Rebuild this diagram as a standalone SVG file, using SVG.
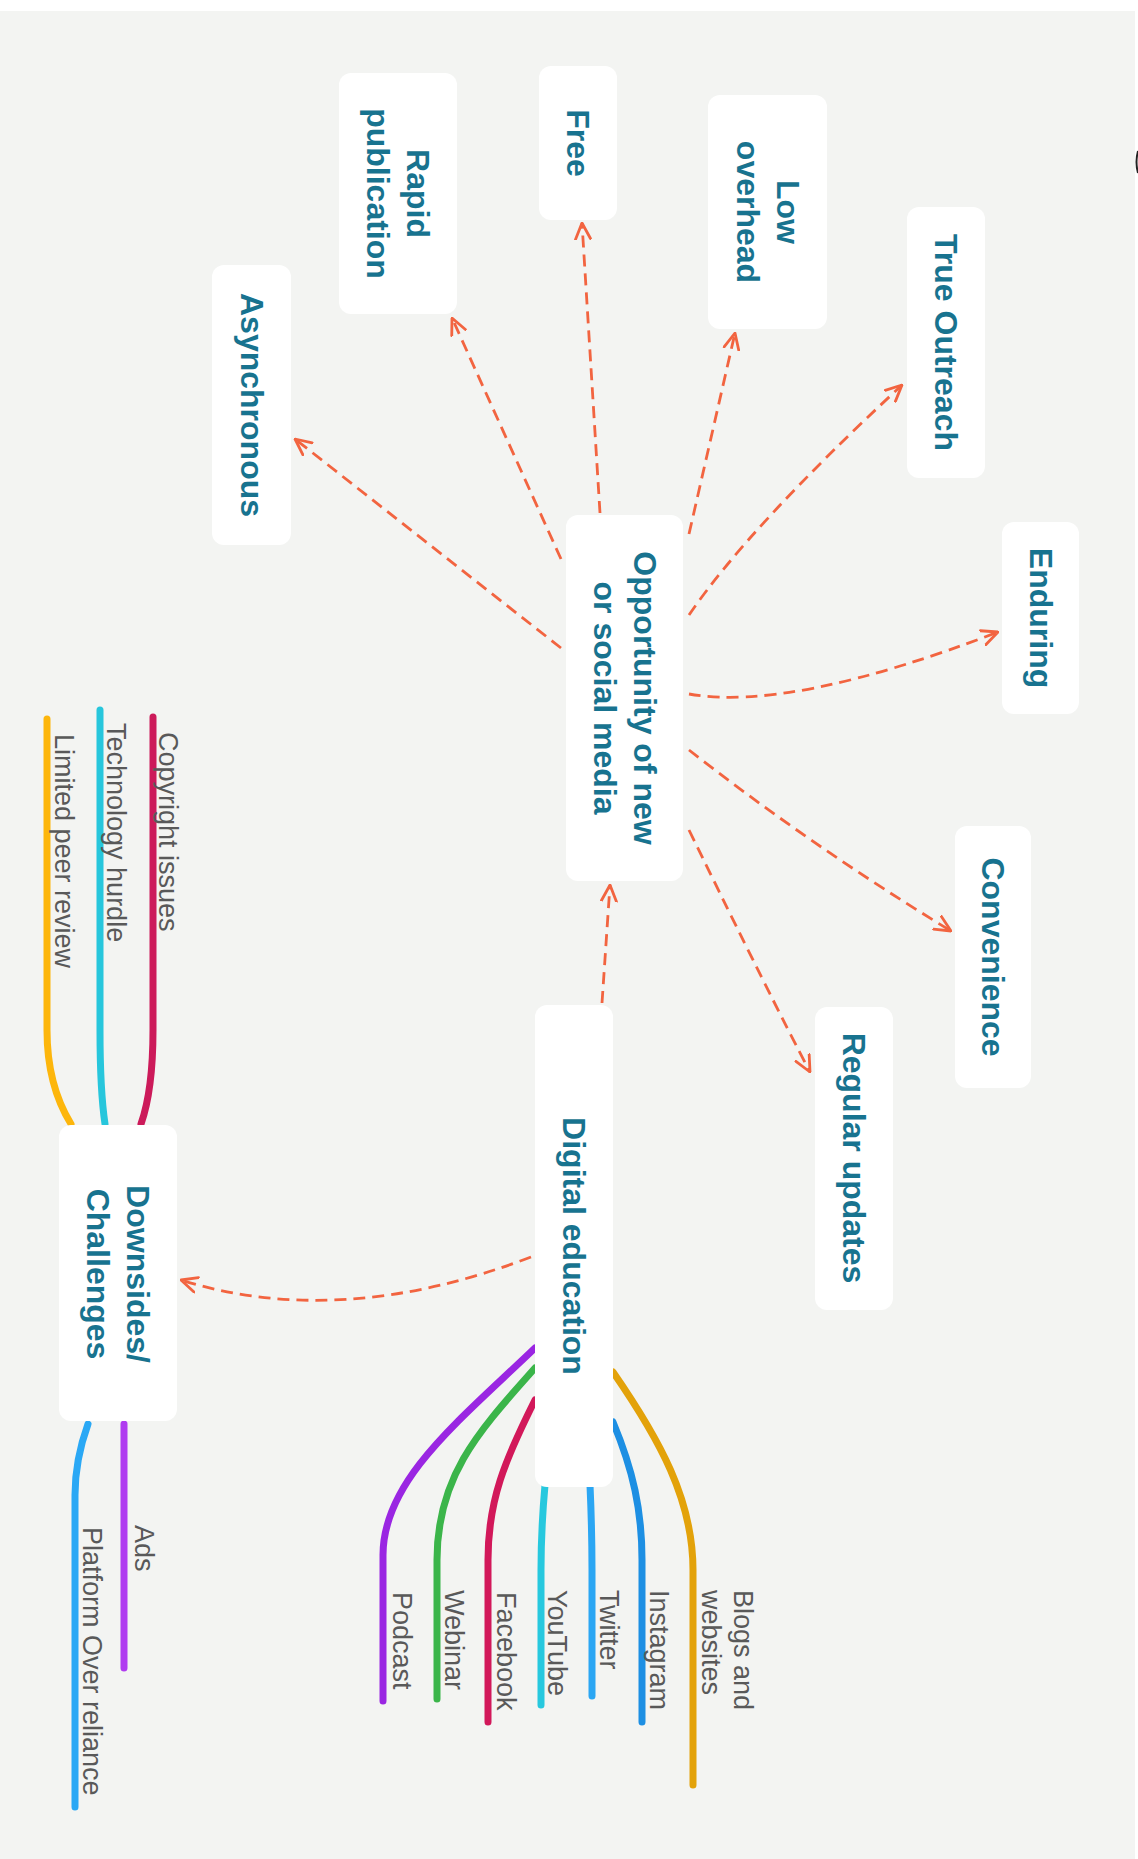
<svg xmlns="http://www.w3.org/2000/svg" width="1138" height="1859" viewBox="0 0 1138 1859">
<defs>
<style>
.bg{fill:#f3f4f2}
.box{fill:#ffffff}
.nt{font-family:"Liberation Sans",Arial,Helvetica,sans-serif;font-weight:bold;font-size:32px;fill:#18738f}
.lt{font-family:"Liberation Sans",Arial,Helvetica,sans-serif;font-size:27px;fill:#595959}
.dash{fill:none;stroke:#f26440;stroke-width:2.8;stroke-dasharray:12 7;marker-end:url(#ah)}
.br{fill:none;stroke-width:7;stroke-linecap:round;stroke-linejoin:round}
</style>
<marker id="ah" viewBox="0 0 18 18" refX="17" refY="9" markerWidth="18" markerHeight="18" markerUnits="userSpaceOnUse" orient="auto">
<path d="M1,1.5 L17,9 L1,16.5" fill="none" stroke="#f26440" stroke-width="2.8" stroke-linecap="round" stroke-linejoin="round"/>
</marker>
</defs>
<rect x="0" y="0" width="1138" height="1859" fill="#ffffff"/>
<rect class="bg" x="0" y="11" width="1135" height="1848"/>
<path d="M1138,151 Q1135,162 1138,173" fill="none" stroke="#222" stroke-width="2"/>

<g id="connectors">
<path class="dash" d="M561,648 L295,439"/>
<path class="dash" d="M561,559 L452,318"/>
<path class="dash" d="M600,513 L582,223"/>
<path class="dash" d="M689,534 L735,333"/>
<path class="dash" d="M689,615 Q749,527 902,385"/>
<path class="dash" d="M689,694 Q790,712 998,632"/>
<path class="dash" d="M689,750 Q813,847 951,931"/>
<path class="dash" d="M689,830 Q772,1000 810,1072"/>
<path class="dash" d="M602,1003 L610,885"/>
<path class="dash" d="M531,1257 Q340,1330 181,1280"/>

<path class="br" stroke="#cc1a5a" d="M153,717 V1030 Q153,1090 141,1124"/>
<path class="br" stroke="#27c6dc" d="M100,710 V1030 Q100,1090 105,1124"/>
<path class="br" stroke="#fdb60c" d="M47,719 V1030 Q47,1085 71,1124"/>
<path class="br" stroke="#2aa8f5" d="M88,1424 Q75,1460 75,1495 V1807"/>
<path class="br" stroke="#b03cf0" d="M124,1424 V1668"/>

<path class="br" stroke="#9a26e2" d="M535,1348 C460,1420 383,1480 383,1555 V1701"/>
<path class="br" stroke="#3bb54a" d="M535,1368 C480,1430 437,1475 437,1560 V1699"/>
<path class="br" stroke="#d2185a" d="M535,1400 C505,1460 488,1500 488,1560 V1722"/>
<path class="br" stroke="#27c8de" d="M545,1485 Q541,1530 541,1570 V1705"/>
<path class="br" stroke="#2ba6f3" d="M590,1485 Q592,1530 592,1570 V1696"/>
<path class="br" stroke="#1d8fe3" d="M613,1422 C633,1470 642,1510 642,1560 V1722"/>
<path class="br" stroke="#e3a20a" d="M613,1372 C660,1440 693,1500 693,1570 V1785"/>
</g>

<g id="node-asynchronous">
<rect class="box" x="212" y="265" width="79" height="280" rx="12"/>
<text class="nt" text-anchor="middle" transform="translate(240.5,405) rotate(90)">Asynchronous</text>
</g>
<g id="node-rapid">
<rect class="box" x="339" y="73" width="118" height="241" rx="12"/>
<text class="nt" text-anchor="middle" transform="translate(407,193.5) rotate(90)"><tspan x="0" y="0">Rapid</tspan><tspan x="0" y="40">publication</tspan></text>
</g>
<g id="node-free">
<rect class="box" x="539" y="66" width="78" height="154" rx="12"/>
<text class="nt" text-anchor="middle" transform="translate(567,143) rotate(90)">Free</text>
</g>
<g id="node-low-overhead">
<rect class="box" x="708" y="95" width="119" height="234" rx="12"/>
<text class="nt" text-anchor="middle" transform="translate(776.5,212) rotate(90)"><tspan x="0" y="0">Low</tspan><tspan x="0" y="40">overhead</tspan></text>
</g>
<g id="node-true-outreach">
<rect class="box" x="907" y="207" width="78" height="271" rx="12"/>
<text class="nt" text-anchor="middle" transform="translate(935,342.5) rotate(90)">True Outreach</text>
</g>
<g id="node-enduring">
<rect class="box" x="1002" y="522" width="77" height="192" rx="12"/>
<text class="nt" text-anchor="middle" transform="translate(1029.5,618) rotate(90)">Enduring</text>
</g>
<g id="node-convenience">
<rect class="box" x="955" y="826" width="76" height="262" rx="12"/>
<text class="nt" text-anchor="middle" transform="translate(982,957) rotate(90)">Convenience</text>
</g>
<g id="node-regular-updates">
<rect class="box" x="815" y="1007" width="78" height="303" rx="12"/>
<text class="nt" text-anchor="middle" transform="translate(843,1158) rotate(90)">Regular updates</text>
</g>
<g id="node-opportunity">
<rect class="box" x="566" y="515" width="117" height="366" rx="12"/>
<text class="nt" text-anchor="middle" transform="translate(633.5,698) rotate(90)"><tspan x="0" y="0">Opportunity of new</tspan><tspan x="0" y="40">or social media</tspan></text>
</g>
<g id="node-digital-education">
<rect class="box" x="535" y="1005" width="78" height="482" rx="12"/>
<text class="nt" text-anchor="middle" transform="translate(563,1246) rotate(90)">Digital education</text>
</g>
<g id="node-downsides">
<rect class="box" x="59" y="1125" width="118" height="296" rx="12"/>
<text class="nt" text-anchor="middle" transform="translate(127,1274) rotate(90)"><tspan x="0" y="0">Downsides/</tspan><tspan x="0" y="40">Challenges</tspan></text>
</g>

<g id="leaf-copyright"><text class="lt" transform="translate(159,732) rotate(90)">Copyright issues</text></g>
<g id="leaf-technology"><text class="lt" transform="translate(107,723) rotate(90)">Technology hurdle</text></g>
<g id="leaf-peer-review"><text class="lt" transform="translate(55,734) rotate(90)">Limited peer review</text></g>
<g id="leaf-ads"><text class="lt" transform="translate(135,1525) rotate(90)">Ads</text></g>
<g id="leaf-platform"><text class="lt" transform="translate(83,1527) rotate(90)">Platform Over reliance</text></g>
<g id="leaf-podcast"><text class="lt" transform="translate(393,1592) rotate(90)">Podcast</text></g>
<g id="leaf-webinar"><text class="lt" transform="translate(445,1590) rotate(90)">Webinar</text></g>
<g id="leaf-facebook"><text class="lt" transform="translate(497,1592) rotate(90)">Facebook</text></g>
<g id="leaf-youtube"><text class="lt" transform="translate(548,1590) rotate(90)">YouTube</text></g>
<g id="leaf-twitter"><text class="lt" transform="translate(600,1590) rotate(90)">Twitter</text></g>
<g id="leaf-instagram"><text class="lt" transform="translate(650,1590) rotate(90)">Instagram</text></g>
<g id="leaf-blogs"><text class="lt" transform="translate(734,1590) rotate(90)"><tspan x="0" y="0">Blogs and</tspan><tspan x="0" y="32">websites</tspan></text></g>
</svg>
